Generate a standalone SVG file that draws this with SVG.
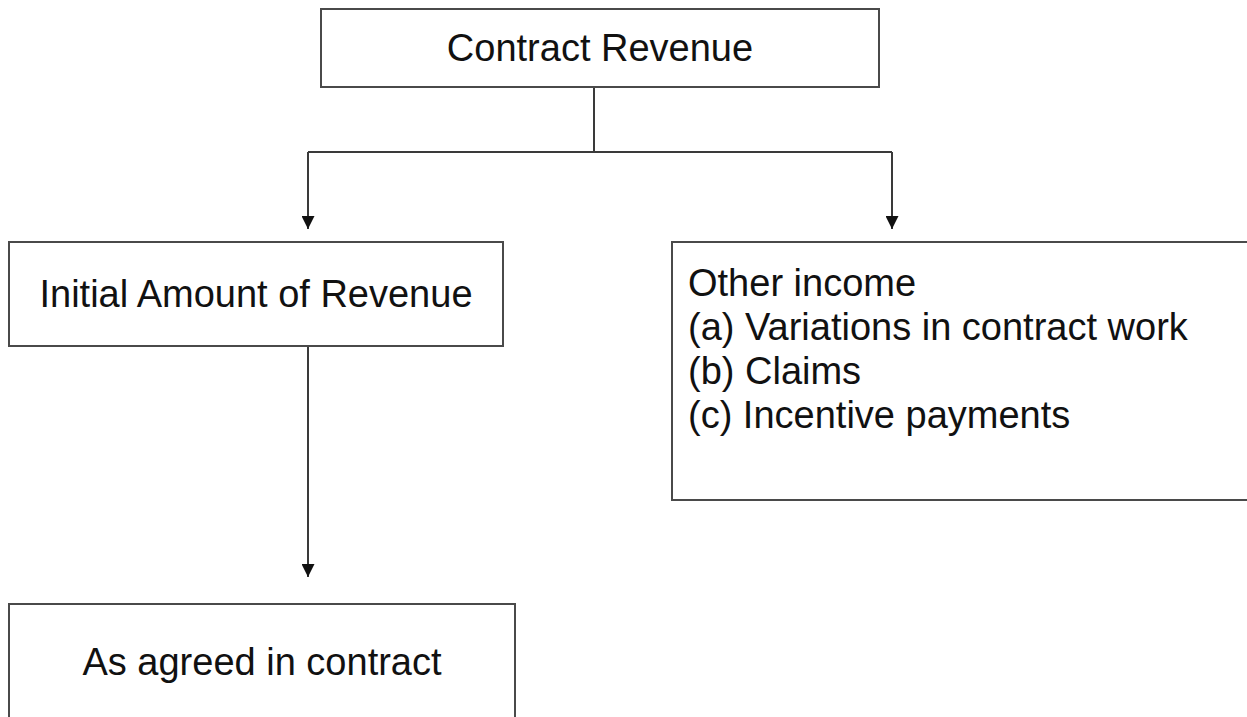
<svg xmlns="http://www.w3.org/2000/svg" width="1247" height="717" viewBox="0 0 1247 717">
  <style>
    .box { fill: #ffffff; stroke: #4a4a4a; stroke-width: 2; }
    .lbl { font-family: "Liberation Sans", Arial, sans-serif; font-size: 38px; fill: #111111; }
    .wire { fill: none; stroke: #3a3a3a; stroke-width: 2; }
  </style>
  <defs>
    <marker id="arrowhead" viewBox="0 0 10 10" refX="10" refY="5" markerWidth="13" markerHeight="13" markerUnits="userSpaceOnUse" orient="auto">
      <path d="M0,0 L10,5 L0,10 Z" fill="#111111"/>
    </marker>
  </defs>
  <rect width="1247" height="717" fill="#ffffff"/>

  <g id="connectors">
    <path class="wire" d="M594,87 V152 M308,152 H892"/>
    <path class="wire" d="M308,152 V229" marker-end="url(#arrowhead)"/>
    <path class="wire" d="M892,152 V229" marker-end="url(#arrowhead)"/>
    <path class="wire" d="M308,346 V577" marker-end="url(#arrowhead)"/>
  </g>

  <g id="contract-revenue">
    <rect class="box" x="321" y="9" width="558" height="78"/>
    <text class="lbl" x="600" y="61" text-anchor="middle">Contract Revenue</text>
  </g>

  <g id="initial-amount">
    <rect class="box" x="9" y="242" width="494" height="104"/>
    <text class="lbl" x="256" y="307" text-anchor="middle">Initial Amount of Revenue</text>
  </g>

  <g id="other-income">
    <rect class="box" x="672" y="242" width="590" height="258"/>
    <text class="lbl" x="688" y="296">Other income</text>
    <text class="lbl" x="688" y="340">(a) Variations in contract work</text>
    <text class="lbl" x="688" y="384">(b) Claims</text>
    <text class="lbl" x="688" y="428">(c) Incentive payments</text>
  </g>

  <g id="as-agreed">
    <rect class="box" x="9" y="604" width="506" height="130"/>
    <text class="lbl" x="262" y="675" text-anchor="middle">As agreed in contract</text>
  </g>
</svg>
